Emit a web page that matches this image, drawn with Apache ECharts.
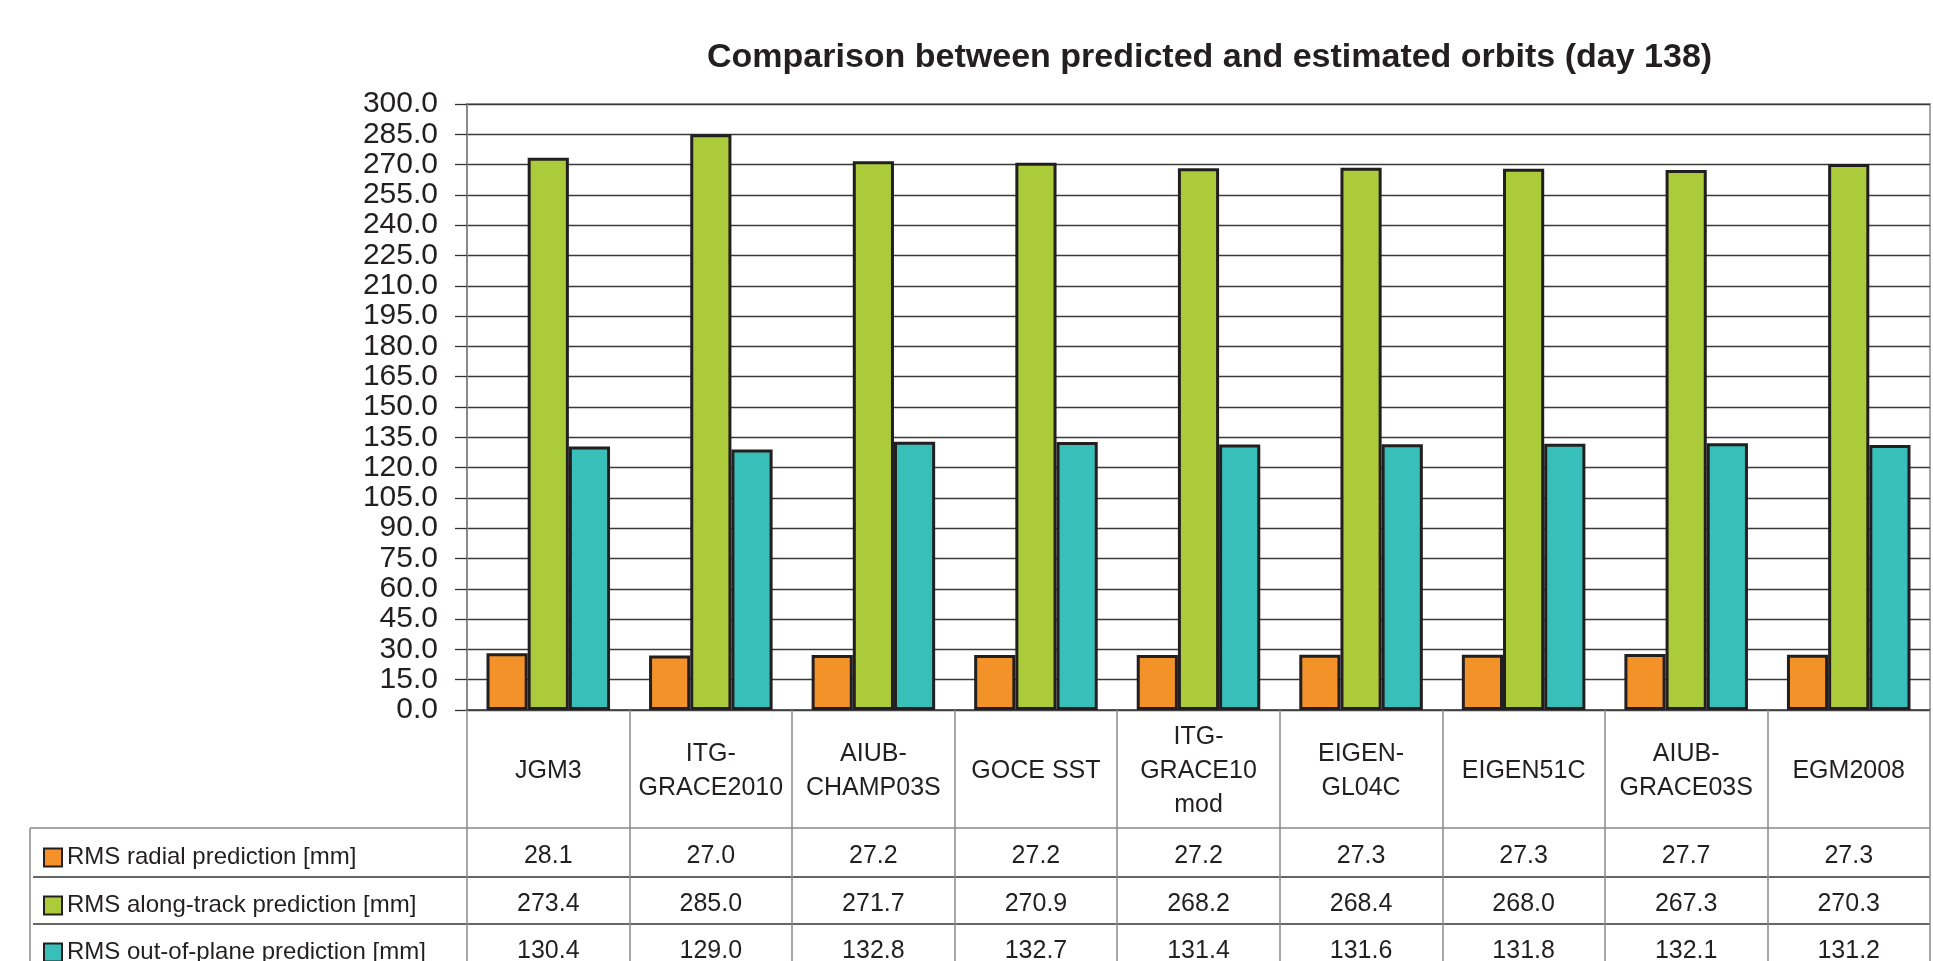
<!DOCTYPE html>
<html>
<head>
<meta charset="utf-8">
<title>Comparison between predicted and estimated orbits (day 138)</title>
<script src="https://cdn.jsdelivr.net/npm/echarts@6/dist/echarts.min.js"></script>
<style>
  html, body { margin: 0; padding: 0; background: #fff; }
  #chart { width: 1933px; height: 961px; }
</style>
</head>
<body>
<div id="chart"></div>
<script>
// Gravity field models compared
const categories = ['JGM3', 'ITG-\nGRACE2010', 'AIUB-\nCHAMP03S', 'GOCE SST', 'ITG-\nGRACE10\nmod',
  'EIGEN-\nGL04C', 'EIGEN51C', 'AIUB-\nGRACE03S', 'EGM2008'];

// RMS of prediction differences [mm]
const radial = [28.1, 27.0, 27.2, 27.2, 27.2, 27.3, 27.3, 27.7, 27.3];
const alongTrack = [273.4, 285.0, 271.7, 270.9, 268.2, 268.4, 268.0, 267.3, 270.3];
const outOfPlane = [130.4, 129.0, 132.8, 132.7, 131.4, 131.6, 131.8, 132.1, 131.2];

const seriesNames = ['RMS radial prediction [mm]', 'RMS along-track prediction [mm]', 'RMS out-of-plane prediction [mm]'];
const seriesValues = [radial, alongTrack, outOfPlane];
const seriesColors = ['#F29229', '#ABCB3A', '#38BFBA'];

// value axis range
const yMin = 0, yMax = 300, yStep = 15;

// layout (px)
const W = 1933, H = 961;
const plotLeft = 467, plotRight = 1930, plotTop = 104, plotBottom = 710;
const headerBottom = 828;
const rowLines = [828, 877, 924];
const rowCenters = [852.5, 900.5, 947.5];
const tableLeft = 30;
const FONT = '"Liberation Sans", Arial, sans-serif';
const INK = '#231f20';

const chart = echarts.init(document.getElementById('chart'), null, { renderer: 'canvas' });

// one hidden-line x axis per table row, each printing its series values
const valueAxes = seriesValues.map((vals, k) => ({
  type: 'category',
  data: categories,
  position: 'bottom',
  gridIndex: 0,
  axisLine: { show: false },
  axisTick: { show: false },
  splitLine: { show: false },
  axisLabel: {
    interval: 0,
    margin: rowCenters[k] - plotBottom + 4,
    verticalAlign: 'middle',
    fontFamily: FONT,
    fontSize: 25,
    color: INK,
    formatter: (v, i) => vals[i].toFixed(1)
  }
}));

// one legend entry per table row
const legends = seriesNames.map((name, k) => ({
  orient: 'horizontal',
  left: 38,
  top: rowCenters[k] - 12,
  itemWidth: 18,
  itemHeight: 18,
  icon: 'rect',
  selectedMode: false,
  itemStyle: { borderColor: INK, borderWidth: 2 },
  textStyle: { fontFamily: FONT, fontSize: 24, color: INK, lineHeight: 24 },
  data: [name]
}));

const hLine = (y, x1, color, w) => ({
  type: 'line',
  shape: { x1: x1, y1: y, x2: plotRight, y2: y },
  style: { stroke: color, lineWidth: w },
  silent: true
});

const option = {
  backgroundColor: '#fff',
  animation: false,
  title: {
    text: 'Comparison between predicted and estimated orbits (day 138)',
    left: 702,
    top: 36,
    textStyle: { fontFamily: FONT, fontSize: 34, fontWeight: 'bold', color: INK }
  },
  legend: legends,
  grid: {
    left: plotLeft,
    right: W - plotRight,
    top: plotTop,
    bottom: H - plotBottom,
    containLabel: false,
    outerBoundsMode: 'none',
    show: true,
    borderColor: '#a8a8a8',
    borderWidth: 2,
    backgroundColor: '#fff'
  },
  xAxis: [{
    type: 'category',
    data: categories,
    position: 'bottom',
    axisLine: { show: true, lineStyle: { color: '#444', width: 1.5 } },
    axisTick: { show: true, length: H - plotBottom + 10, lineStyle: { color: '#8a8a8a', width: 1.5 } },
    splitLine: { show: false },
    axisLabel: {
      interval: 0,
      margin: (plotBottom + headerBottom) / 2 - plotBottom + 2,
      verticalAlign: 'middle',
      align: 'center',
      fontFamily: FONT,
      fontSize: 25,
      lineHeight: 34,
      color: INK
    }
  }].concat(valueAxes),
  yAxis: {
    type: 'value',
    min: yMin,
    max: yMax,
    interval: yStep,
    axisLine: { show: true, lineStyle: { color: '#8a8a8a', width: 2 } },
    axisTick: { show: true, length: 12, lineStyle: { color: '#333', width: 1.3 } },
    splitLine: { show: true, lineStyle: { color: '#3a3a3a', width: 1.3 } },
    axisLabel: {
      margin: 29,
      fontFamily: FONT,
      fontSize: 30,
      color: INK,
      padding: [8, 0, 0, 0],
      formatter: v => v.toFixed(1)
    }
  },
  series: seriesNames.map((name, k) => ({
    name: name,
    type: 'bar',
    data: seriesValues[k],
    barGap: '0%',
    barCategoryGap: '24%',
    itemStyle: { color: seriesColors[k], borderColor: INK, borderWidth: 3 },
    emphasis: { disabled: true }
  })),
  graphic: [
    // table rules below the plot
    hLine(rowLines[0], tableLeft, '#8a8a8a', 1.5),
    hLine(rowLines[1], tableLeft + 3, '#333', 1.3),
    hLine(rowLines[2], tableLeft + 3, '#333', 1.3),
    {
      type: 'line',
      shape: { x1: tableLeft, y1: rowLines[0], x2: tableLeft, y2: H },
      style: { stroke: '#8a8a8a', lineWidth: 1.5 },
      silent: true
    }
  ]
};

chart.setOption(option);
</script>
</body>
</html>
